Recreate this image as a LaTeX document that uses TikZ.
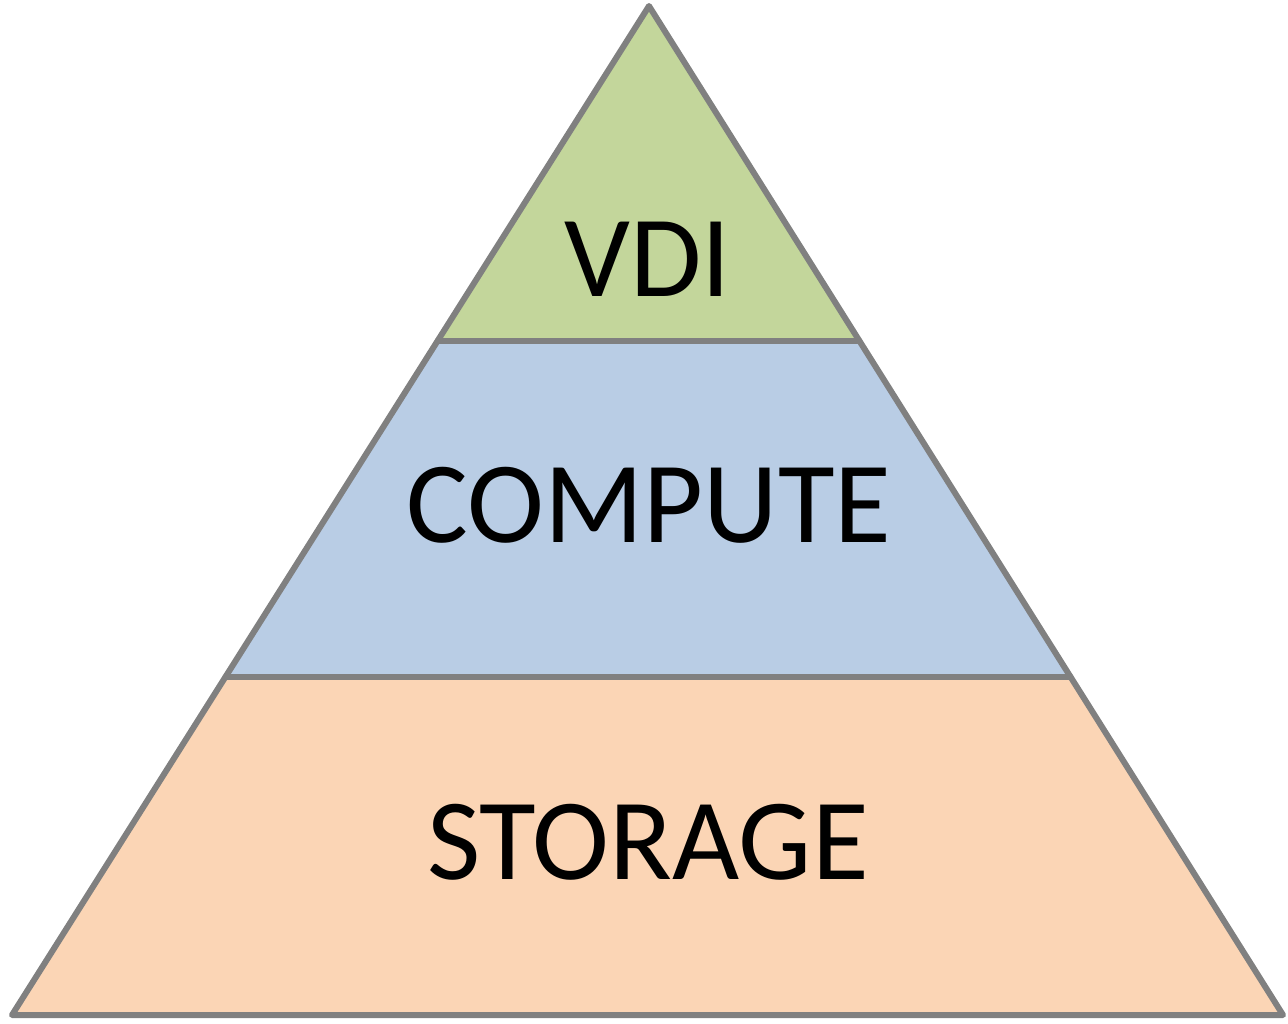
\documentclass[tikz,border=0pt]{standalone}
\usepackage{fontspec}
\setmainfont{Carlito}
\usetikzlibrary{calc}
\definecolor{vdigreen}{RGB}{195,214,155}
\definecolor{compblue}{RGB}{185,205,229}
\definecolor{storpeach}{RGB}{251,213,181}
\definecolor{edgegray}{RGB}{128,128,128}
\tikzset{
  band/.style={draw=edgegray, line width=6pt, line join=round},
  lbl/.style={font=\fontsize{116}{120}\selectfont, text=black, inner sep=0pt, anchor=center}
}
\begin{document}
\begin{tikzpicture}[x=1pt,y=-1pt]
\useasboundingbox (0,0) rectangle (1288,1023);
% key points
\coordinate (apex) at (649,6);
\coordinate (bl) at (12,1015);
\coordinate (br) at (1283,1015);
\coordinate (m1l) at ($(apex)!0.332!(bl)$);
\coordinate (m1r) at ($(apex)!0.332!(br)$);
\coordinate (m2l) at ($(apex)!0.665!(bl)$);
\coordinate (m2r) at ($(apex)!0.665!(br)$);
% bands
\fill[storpeach] (m2l) -- (m2r) -- (br) -- (bl) -- cycle;
\fill[compblue] (m1l) -- (m1r) -- (m2r) -- (m2l) -- cycle;
\fill[vdigreen] (apex) -- (m1r) -- (m1l) -- cycle;
\draw[band] (apex) -- (br) -- (bl) -- cycle;
\draw[band, line cap=round] (m1l) -- (m1r);
\draw[band, line cap=round] (m2l) -- (m2r);
% labels
\node[lbl] (vdi) at (648,259) {VDI};
\node[lbl] (compute) at (649,505) {COMPUTE};
\node[lbl] (storage) at (648,842) {STORAGE};
\end{tikzpicture}
\end{document}
